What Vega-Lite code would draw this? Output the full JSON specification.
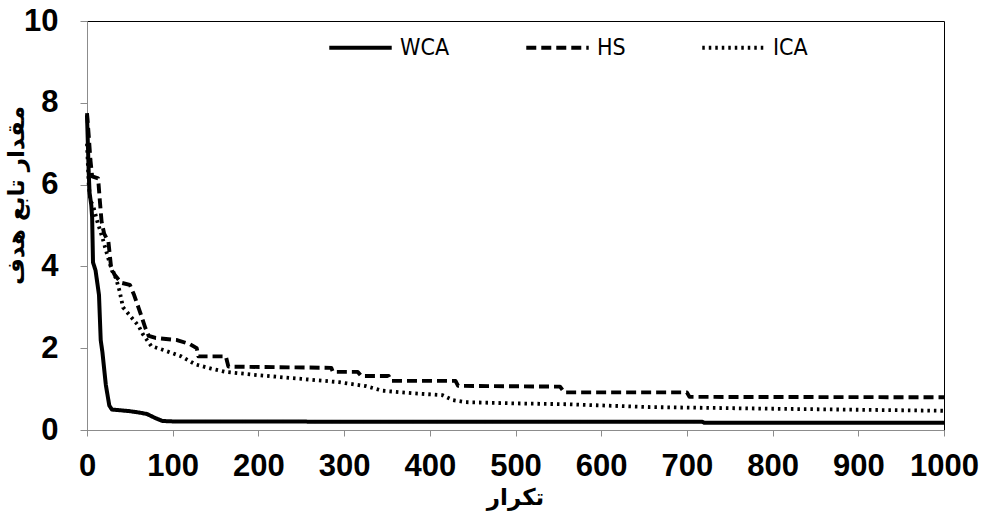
{
  "$schema": "https://vega.github.io/schema/vega-lite/v6.json",
  "width": 857,
  "height": 409,
  "autosize": {"type": "none"},
  "padding": {"left": 87, "top": 21, "right": 39, "bottom": 85},
  "background": "white",
  "config": {
    "view": {"stroke": "black", "strokeWidth": 1},
    "axis": {
      "grid": false,
      "domainColor": "#8c8c8c",
      "tickColor": "#8c8c8c",
      "labelFont": "Liberation Sans",
      "labelFontWeight": "bold",
      "labelFontSize": 31,
      "labelColor": "black",
      "labelOverlap": false,
      "labelFlush": false,
      "titleFont": "DejaVu Sans",
      "titleFontWeight": "bold",
      "titleColor": "black"
    }
  },
  "data": {
    "values": [
      {"s":"WCA","x":0,"y":7.7},{"s":"WCA","x":1,"y":7.0},{"s":"WCA","x":2,"y":6.3},{"s":"WCA","x":3,"y":5.8},{"s":"WCA","x":5,"y":5.5},{"s":"WCA","x":6,"y":5.2},{"s":"WCA","x":7,"y":4.1},{"s":"WCA","x":10,"y":3.9},{"s":"WCA","x":12,"y":3.6},{"s":"WCA","x":14,"y":3.3},{"s":"WCA","x":16,"y":2.2},{"s":"WCA","x":18,"y":1.9},{"s":"WCA","x":22,"y":1.1},{"s":"WCA","x":26,"y":0.6},{"s":"WCA","x":29,"y":0.5},{"s":"WCA","x":40,"y":0.48},{"s":"WCA","x":50,"y":0.46},{"s":"WCA","x":60,"y":0.43},{"s":"WCA","x":70,"y":0.39},{"s":"WCA","x":80,"y":0.29},{"s":"WCA","x":88,"y":0.22},{"s":"WCA","x":100,"y":0.21},{"s":"WCA","x":400,"y":0.2},{"s":"WCA","x":718,"y":0.2},{"s":"WCA","x":720,"y":0.18},{"s":"WCA","x":1000,"y":0.18},
      {"s":"HS","x":0,"y":7.75},{"s":"HS","x":2,"y":7.2},{"s":"HS","x":4,"y":6.6},{"s":"HS","x":6,"y":6.2},{"s":"HS","x":13,"y":6.15},{"s":"HS","x":15,"y":5.6},{"s":"HS","x":17,"y":5.1},{"s":"HS","x":20,"y":4.8},{"s":"HS","x":25,"y":4.6},{"s":"HS","x":28,"y":4.0},{"s":"HS","x":32,"y":3.8},{"s":"HS","x":40,"y":3.6},{"s":"HS","x":50,"y":3.55},{"s":"HS","x":55,"y":3.3},{"s":"HS","x":60,"y":3.0},{"s":"HS","x":68,"y":2.5},{"s":"HS","x":72,"y":2.3},{"s":"HS","x":80,"y":2.25},{"s":"HS","x":105,"y":2.2},{"s":"HS","x":120,"y":2.1},{"s":"HS","x":128,"y":2.0},{"s":"HS","x":130,"y":1.8},{"s":"HS","x":162,"y":1.8},{"s":"HS","x":165,"y":1.55},{"s":"HS","x":285,"y":1.52},{"s":"HS","x":287,"y":1.42},{"s":"HS","x":316,"y":1.42},{"s":"HS","x":320,"y":1.32},{"s":"HS","x":352,"y":1.32},{"s":"HS","x":355,"y":1.2},{"s":"HS","x":430,"y":1.2},{"s":"HS","x":433,"y":1.08},{"s":"HS","x":552,"y":1.06},{"s":"HS","x":557,"y":0.92},{"s":"HS","x":700,"y":0.92},{"s":"HS","x":703,"y":0.81},{"s":"HS","x":1000,"y":0.8},
      {"s":"ICA","x":0,"y":7.0},{"s":"ICA","x":2,"y":6.0},{"s":"ICA","x":4,"y":5.6},{"s":"ICA","x":7,"y":5.5},{"s":"ICA","x":12,"y":5.1},{"s":"ICA","x":18,"y":4.7},{"s":"ICA","x":22,"y":4.4},{"s":"ICA","x":29,"y":3.9},{"s":"ICA","x":34,"y":3.7},{"s":"ICA","x":38,"y":3.4},{"s":"ICA","x":42,"y":3.0},{"s":"ICA","x":50,"y":2.8},{"s":"ICA","x":60,"y":2.55},{"s":"ICA","x":65,"y":2.35},{"s":"ICA","x":75,"y":2.05},{"s":"ICA","x":90,"y":1.95},{"s":"ICA","x":110,"y":1.8},{"s":"ICA","x":127,"y":1.6},{"s":"ICA","x":145,"y":1.5},{"s":"ICA","x":162,"y":1.42},{"s":"ICA","x":200,"y":1.34},{"s":"ICA","x":250,"y":1.25},{"s":"ICA","x":294,"y":1.17},{"s":"ICA","x":326,"y":1.07},{"s":"ICA","x":345,"y":0.96},{"s":"ICA","x":380,"y":0.9},{"s":"ICA","x":415,"y":0.85},{"s":"ICA","x":427,"y":0.73},{"s":"ICA","x":442,"y":0.68},{"s":"ICA","x":500,"y":0.65},{"s":"ICA","x":559,"y":0.63},{"s":"ICA","x":657,"y":0.56},{"s":"ICA","x":800,"y":0.52},{"s":"ICA","x":1000,"y":0.47}
    ]
  },
  "mark": {"type": "line", "color": "black", "strokeCap": "butt", "strokeJoin": "round"},
  "encoding": {
    "x": {
      "field": "x", "type": "quantitative",
      "scale": {"domain": [0, 1000], "nice": false},
      "axis": {
        "values": [0,100,200,300,400,500,600,700,800,900,1000],
        "format": "d",
        "tickSize": 6, "labelPadding": 15,
        "title": "تکرار", "titleFontSize": 23,
        "titleX": 428, "titleY": 67, "titleBaseline": "middle", "titleAlign": "center"
      }
    },
    "y": {
      "field": "y", "type": "quantitative",
      "scale": {"domain": [0, 10], "nice": false},
      "axis": {
        "values": [0,2,4,6,8,10],
        "format": "d",
        "tickSize": 7, "labelPadding": 22,
        "title": "مقدار تابع هدف", "titleFontSize": 23,
        "titleX": -71, "titleY": 174, "titleBaseline": "middle", "titleAlign": "center", "titleAngle": -90
      }
    },
    "strokeDash": {
      "field": "s", "type": "nominal",
      "scale": {"domain": ["WCA", "HS", "ICA"], "range": [[1, 0], [10, 5], [2.5, 4]]},
      "legend": {
        "title": null,
        "orient": "none",
        "legendX": 240,
        "legendY": -7,
        "direction": "horizontal",
        "columns": 3,
        "columnPadding": 68,
        "padding": 0,
        "symbolType": "stroke",
        "symbolSize": 3900,
        "symbolStrokeWidth": 3.5,
        "symbolStrokeColor": "black",
        "labelOffset": 6,
        "labelFont": "DejaVu Sans Condensed, Roboto Condensed, Liberation Sans Narrow, Roboto, sans-serif",
        "labelFontSize": 23,
        "labelColor": "black"
      }
    },
    "strokeWidth": {
      "field": "s", "type": "nominal",
      "scale": {"domain": ["WCA", "HS", "ICA"], "range": [4, 3.8, 3]},
      "legend": null
    }
  }
}
